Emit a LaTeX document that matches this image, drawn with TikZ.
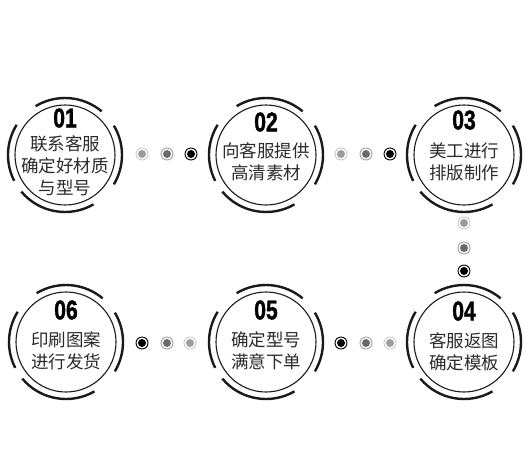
\documentclass[tikz,border=0pt]{standalone}
\usepackage{fontspec}
\usepackage{graphicx}
\usepackage{xcolor}
\newfontfamily\cjkfont{Noto Sans CJK SC}
\newfontfamily\stepnumfont{Liberation Sans}[BoldFeatures={FakeBold=1.6}]
\definecolor{flowink}{HTML}{1A1A1A}
\definecolor{flowtext}{HTML}{2A2A2A}
\definecolor{dotlight}{HTML}{9C9C9C}
\definecolor{ringlight}{HTML}{CACACA}
\definecolor{dotmid}{HTML}{6A6A6A}
\definecolor{ringmid}{HTML}{A0A0A0}
\tikzset{
  ringcircle/.style={circle, draw=flowink, line width=1.1pt, minimum size=100pt, inner sep=0pt},
  ringarc/.style={flowink, line width=2.4pt},
  numlabel/.style={inner sep=0pt, text=black, font=\stepnumfont\bfseries\fontsize{27}{27}\selectfont},
  steplabel/.style={inner sep=0pt, align=center, text=flowtext, font=\cjkfont\fontsize{17.5}{22}\selectfont},
  flowdot/.style 2 args={circle, draw=#2, line width=0.9pt, minimum size=12pt, inner sep=0pt,
    path picture={\fill[#1] (path picture bounding box.center) circle (4pt);}},
  lightdot/.style={flowdot={dotlight}{ringlight}},
  middot/.style={flowdot={dotmid}{ringmid}},
  darkdot/.style={flowdot={black}{black}}
}
% #1 name, #2 x, #3 y, #4 number, #5 number shift, #6 text shift, #7 text
\newcommand{\stepring}[7]{%
  \node[ringcircle] (#1) at (#2,#3) {};
  \draw[ringarc] ([shift={(50:57pt)}]#1.center) arc[start angle=50, end angle=121, radius=57pt];
  \draw[ringarc] ([shift={(148:57pt)}]#1.center) arc[start angle=148, end angle=207, radius=57pt];
  \draw[ringarc] ([shift={(220:57pt)}]#1.center) arc[start angle=220, end angle=300, radius=57pt];
  \draw[ringarc] ([shift={(-31:57pt)}]#1.center) arc[start angle=-31, end angle=31, radius=57pt];
  \node[numlabel] (#1num) at ([yshift=#5]#1.center) {\scalebox{0.78}[1]{#4}};
  \node[steplabel] (#1txt) at ([yshift=#6]#1.center) {#7};
}

\begin{document}
\begin{tikzpicture}[x=1pt, y=1pt]

  \useasboundingbox (0,0) rectangle (526,-458);

  \stepring{s1}{65}{-155}{01}{37pt}{-11pt}{联系客服\\确定好材质\\与型号}
  \stepring{s2}{266}{-155}{02}{33pt}{-7pt}{向客服提供\\高清素材}
  \stepring{s3}{464}{-155}{03}{35pt}{-7pt}{美工进行\\排版制作}
  \stepring{s4}{464}{-342}{04}{31pt}{-10pt}{客服返图\\确定模板}
  \stepring{s5}{266}{-342}{05}{32pt}{-9pt}{确定型号\\满意下单}
  \stepring{s6}{66}{-342}{06}{32pt}{-9pt}{印刷图案\\进行发货}

  % 01 -> 02
  \node[lightdot] (d12a) at (142,-154) {};
  \node[middot]   (d12b) at (167,-154) {};
  \node[darkdot]  (d12c) at (191,-154) {};

  % 02 -> 03
  \node[lightdot] (d23a) at (341,-154) {};
  \node[middot]   (d23b) at (366,-154) {};
  \node[darkdot]  (d23c) at (390,-154) {};

  % 03 -> 04
  \node[lightdot] (d34a) at (464,-223) {};
  \node[middot]   (d34b) at (464,-248) {};
  \node[darkdot]  (d34c) at (464,-271) {};

  % 04 -> 05
  \node[darkdot]  (d45a) at (341,-343) {};
  \node[middot]   (d45b) at (366,-343) {};
  \node[lightdot] (d45c) at (390,-343) {};

  % 05 -> 06
  \node[darkdot]  (d56a) at (142,-343) {};
  \node[middot]   (d56b) at (167,-343) {};
  \node[lightdot] (d56c) at (190,-343) {};

\end{tikzpicture}
\end{document}
